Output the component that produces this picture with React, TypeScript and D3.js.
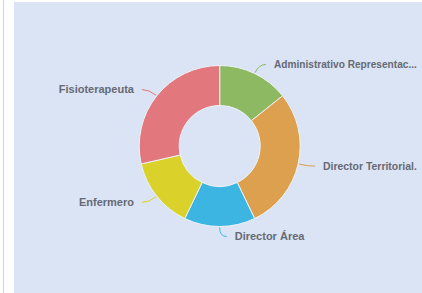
import React from "react";
import * as d3 from "d3";

const categories = [
  "Administrativo Representac...",
  "Director Territorial.",
  "Director Área",
  "Enfermero",
  "Fisioterapeuta",
];
const values = [1, 2, 1, 1, 2];
const colors = ["#8db962", "#dca04f", "#3db5e2", "#dad12b", "#e2777e"];

const W = 422;
const H = 293;
const cx = 219.7;
const cy = 146;
const rOuter = 80.5;
const rInner = 40.5;
const len1 = 10;
const len2 = 7;
const gap = 8;
const maxRight = 417;

export default function App() {
  const pie = d3
    .pie<number>()
    .sort(null)
    .value((d) => d)
    .startAngle(0)
    .endAngle(2 * Math.PI);
  const arcs = pie(values);
  const arcGen = d3
    .arc<d3.PieArcDatum<number>>()
    .innerRadius(rInner)
    .outerRadius(rOuter);

  const measure = (s: string) => {
    if (typeof document === "undefined") return 0;
    const c = document.createElement("canvas").getContext("2d");
    if (!c) return 0;
    c.font = "bold 11px 'Liberation Sans', Arial, sans-serif";
    return c.measureText(s).width;
  };

  return (
    <svg
      width={W}
      height={H}
      style={{ position: "fixed", left: 0, top: 0 }}
      fontFamily="Liberation Sans, Arial, sans-serif"
    >
      <rect x={0} y={0} width={W} height={H} fill="#ffffff" />
      <line x1={3.5} y1={0} x2={3.5} y2={H} stroke="#d4d4d4" strokeWidth={1} />
      <rect x={14} y={2} width={W - 14} height={H - 2} fill="#dae4f4" />
      <g transform={`translate(${cx},${cy})`}>
        {arcs.map((a, i) => (
          <path
            key={i}
            d={arcGen(a) || ""}
            fill={colors[i]}
            stroke="#eef2f6"
            strokeWidth={1}
          />
        ))}
        {arcs.map((a, i) => {
          const mid = (a.startAngle + a.endAngle) / 2;
          const sx = Math.sin(mid);
          const sy = -Math.cos(mid);
          const p0x = sx * (rOuter + 1);
          const p0y = sy * (rOuter + 1);
          const p1x = sx * (rOuter + len1);
          const p1y = sy * (rOuter + len1);
          const right = sx >= -1e-6;
          const dir = right ? 1 : -1;
          const p2x = p1x + dir * len2;
          const p2y = p1y;
          const d = `M${p0x},${p0y} Q${p1x},${p1y} ${p2x},${p2y}`;
          const tx = p2x + dir * gap;
          const avail = maxRight - (cx + tx);
          const w = measure(categories[i]);
          const k = right && w > avail && avail > 0 ? avail / w : 1;
          return (
            <g key={"l" + i}>
              <path d={d} fill="none" stroke={colors[i]} strokeWidth={1} />
              <text
                transform={`translate(${tx},${p2y}) scale(${k},1)`}
                dy="0.35em"
                textAnchor={right ? "start" : "end"}
                fontSize={11}
                fontWeight="bold"
                fill="#676a74"
              >
                {categories[i]}
              </text>
            </g>
          );
        })}
      </g>
    </svg>
  );
}
